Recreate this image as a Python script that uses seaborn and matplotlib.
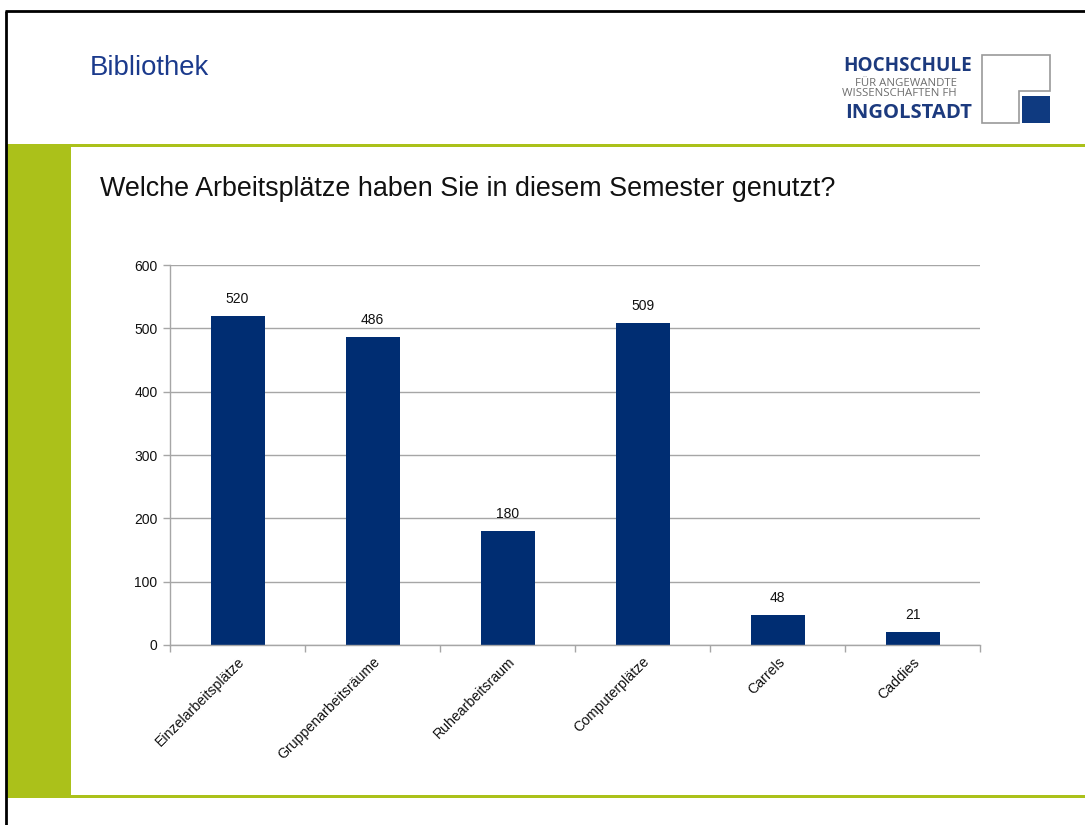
import matplotlib
matplotlib.use("Agg")
import matplotlib.pyplot as plt
import seaborn as sns
import pandas as pd
from matplotlib.patches import Rectangle, Polygon

categories = ["Einzelarbeitsplätze", "Gruppenarbeitsräume", "Ruhearbeitsraum",
              "Computerplätze", "Carrels", "Caddies"]
values = [520, 486, 180, 509, 48, 21]
y_ticks = [0, 100, 200, 300, 400, 500, 600]

title = "Welche Arbeitsplätze haben Sie in diesem Semester genutzt?"
header = "Bibliothek"

sns.set_theme(style="white")
plt.rcParams['font.family'] = ['Liberation Sans', 'DejaVu Sans']

W, H = 1085, 825
fig = plt.figure(figsize=(W / 100, H / 100), dpi=100)
fig.patch.set_facecolor("white")

# background / slide decoration in pixel coordinates
bg = fig.add_axes([0, 0, 1, 1], zorder=0)
bg.set_xlim(0, W)
bg.set_ylim(H, 0)
bg.axis("off")

green = "#ABC11A"
navy = "#002D72"
# green elements
bg.add_patch(Rectangle((7, 144), W - 7, 3, color=green, lw=0))
bg.add_patch(Rectangle((7, 144), 64, 654, color=green, lw=0))
bg.add_patch(Rectangle((7, 795), W - 7, 3, color=green, lw=0))
# black border
bg.plot([6, 6], [11, H], color="black", lw=2.0, solid_capstyle="butt")
bg.plot([5, W], [11, 11], color="black", lw=2.0, solid_capstyle="butt")

bg.text(90, 68, header, fontsize=19.8, color="#1B3A8C", va="center", ha="left")
bg.text(100, 189, title, fontsize=19.4, color="#111111", va="center", ha="left")

# logo
logo_blue = "#1C3A7E"
logo_gray = "#6E6E6E"
lf = ['Open Sans', 'DejaVu Sans']
sf = ['Liberation Sans Narrow', 'Open Sans']
bg.text(972, 66, "HOCHSCHULE", fontsize=13.6, fontweight="bold", color=logo_blue,
        ha="right", va="center", family=lf)
bg.text(957, 83.5, "FÜR ANGEWANDTE", fontsize=8.2, color=logo_gray,
        ha="right", va="center", family=sf)
bg.text(957, 94, "WISSENSCHAFTEN FH", fontsize=8.2, color=logo_gray,
        ha="right", va="center", family=sf)
bg.text(972, 112.5, "INGOLSTADT", fontsize=14.6, fontweight="bold", color=logo_blue,
        ha="right", va="center", family=lf)
bg.add_patch(Polygon([(982, 55), (1050, 55), (1050, 91), (1019, 91), (1019, 123), (982, 123)],
                     closed=True, fill=False, edgecolor="#9A9A9A", lw=1.2))
bg.add_patch(Rectangle((1022, 96), 28, 27, color="#0F3A80", lw=0))

# chart
ax = fig.add_axes([170 / W, 1 - 645 / H, 810 / W, 380 / H], zorder=1)
df = pd.DataFrame({"cat": categories, "val": values})
sns.barplot(data=df, x="cat", y="val", color=navy, saturation=1, width=0.4,
            ax=ax, edgecolor=navy, linewidth=0)
ax.set_xlim(-0.5, len(categories) - 0.5)
ax.set_ylim(0, 600)
ax.set_yticks(y_ticks)
ax.set_xlabel("")
ax.set_ylabel("")
ax.grid(axis="y", color="#A6A6A6", lw=1)
ax.set_axisbelow(True)
for s in ["top", "right"]:
    ax.spines[s].set_visible(False)
for s in ["left", "bottom"]:
    ax.spines[s].set_color("#A6A6A6")
    ax.spines[s].set_linewidth(1)

ax.set_xticks([i - 0.5 for i in range(len(categories) + 1)], minor=True)
ax.tick_params(axis="x", which="minor", length=5, color="#A6A6A6", width=1, direction="out", bottom=True)
ax.tick_params(axis="x", which="major", length=0, pad=7)
ax.tick_params(axis="y", length=5, color="#A6A6A6", width=1, direction="out", left=True,
               labelsize=10, labelcolor="#111111", pad=4)
ax.set_xticks(range(len(categories)))
ax.set_xticklabels(categories, rotation=45, ha="right", rotation_mode="anchor",
                   fontsize=10.2, color="#111111")

ax.bar_label(ax.containers[0], labels=[str(v) for v in values], padding=7,
             fontsize=10, color="#111111")

fig.savefig("out.png", dpi=100, facecolor="white")
